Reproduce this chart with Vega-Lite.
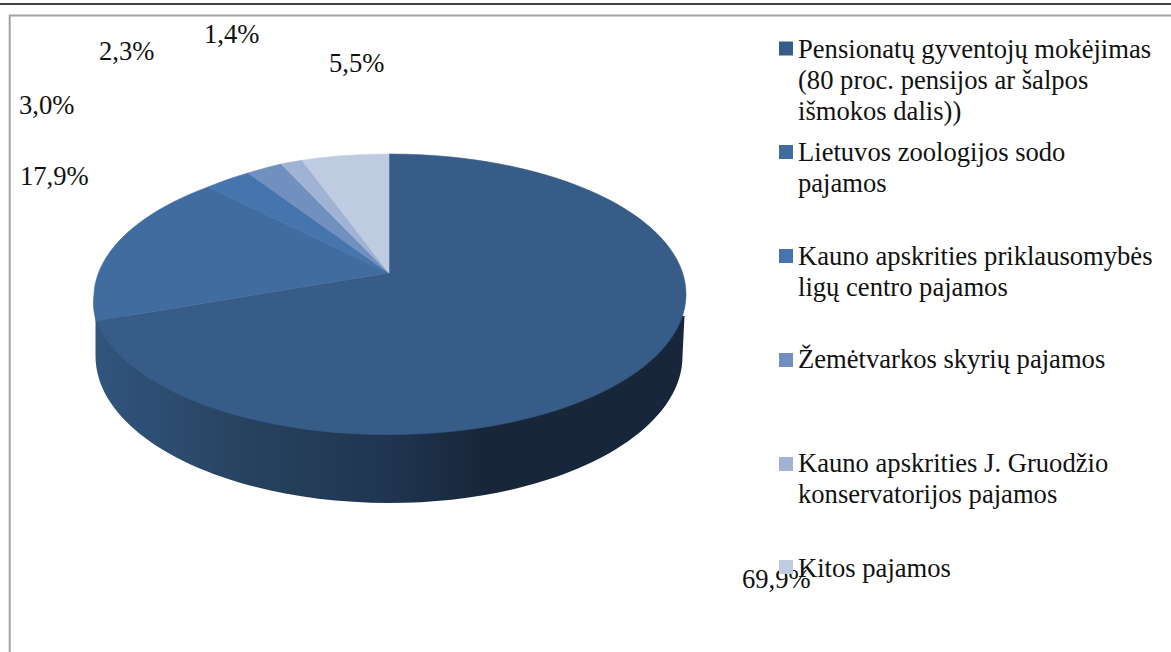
{"$schema":"https://vega.github.io/schema/vega-lite/v6.json","width":1171,"height":652,"padding":0,"autosize":{"type":"none"},"background":"white","config":{"view":{"stroke":null}},"data":{"values":[{"category":"Pensionatų gyventojų mokėjimas","legend":"Pensionatų gyventojų mokėjimas\n(80 proc. pensijos ar šalpos\nišmokos dalis))","value":69.9,"label":"69,9%"},{"category":"Lietuvos zoologijos sodo pajamos","legend":"Lietuvos zoologijos sodo\npajamos","value":17.9,"label":"17,9%"},{"category":"Kauno apskrities priklausomybės ligų centro pajamos","legend":"Kauno apskrities priklausomybės\nligų centro pajamos","value":3.0,"label":"3,0%"},{"category":"Žemėtvarkos skyrių pajamos","legend":"Žemėtvarkos skyrių pajamos","value":2.3,"label":"2,3%"},{"category":"Kauno apskrities J. Gruodžio konservatorijos pajamos","legend":"Kauno apskrities J. Gruodžio\nkonservatorijos pajamos","value":1.4,"label":"1,4%"},{"category":"Kitos pajamos","legend":"Kitos pajamos","value":5.5,"label":"5,5%"}]},"resolve":{"scale":{"x":"independent","y":"independent"}},"layer":[{"data":{"values":[{"part":"page rule"}]},"mark":{"type":"rule","color":"#000000","strokeWidth":1.6},"encoding":{"y":{"datum":4,"type":"quantitative","scale":{"domain":[0,652],"range":[0,652]},"axis":null}}},{"data":{"values":[{"part":"frame"}]},"mark":{"type":"rect","fillOpacity":0,"stroke":"#a2a2a2","strokeWidth":2},"encoding":{"x":{"datum":9.7,"type":"quantitative","scale":{"domain":[0,1171],"range":[0,1171]},"axis":null},"x2":{"datum":1300},"y":{"datum":15.5,"type":"quantitative","scale":{"domain":[0,652],"range":[0,652]},"axis":null},"y2":{"datum":800}}},{"data":{"values":[{"part":"side"}]},"mark":{"type":"point","filled":true,"opacity":1,"size":4,"strokeWidth":0,"shape":"M-490 -10L-490 30A293.5 147 0 0 0 97 30L99 -10Z","fill":{"gradient":"linear","x1":0,"y1":0,"x2":1,"y2":0,"stops":[{"offset":0,"color":"#31557e"},{"offset":0.26,"color":"#27425f"},{"offset":0.5,"color":"#1f3550"},{"offset":0.66,"color":"#18263a"},{"offset":1,"color":"#17263a"}]}},"encoding":{}},{"mark":{"type":"point","filled":true,"opacity":1,"size":4,"strokeWidth":0.6},"encoding":{"shape":{"field":"category","type":"nominal","legend":null,"scale":{"domain":["Pensionatų gyventojų mokėjimas","Lietuvos zoologijos sodo pajamos","Kauno apskrities priklausomybės ligų centro pajamos","Žemėtvarkos skyrių pajamos","Kauno apskrities J. Gruodžio konservatorijos pajamos","Kitos pajamos"],"range":["M-196.5 -53L-196.5 -172A296 140 0 0 1 100.5 -32A296 140 0 0 1 -195.5 108.5A296 140 0 0 1 -489.5 -5Z","M-196.5 -53L-489.5 -5A296 140 0 0 1 -491.5 -32A296 140 0 0 1 -377.5 -139Z","M-196.5 -53L-377.5 -139A296 140 0 0 1 -337.5 -153Z","M-196.5 -53L-337.5 -153A296 140 0 0 1 -304.5 -162Z","M-196.5 -53L-304.5 -162A296 140 0 0 1 -283.5 -165.7Z","M-196.5 -53L-283.5 -165.7A296 140 0 0 1 -196.5 -172Z"]}},"color":{"field":"category","type":"nominal","legend":null,"scale":{"domain":["Pensionatų gyventojų mokėjimas","Lietuvos zoologijos sodo pajamos","Kauno apskrities priklausomybės ligų centro pajamos","Žemėtvarkos skyrių pajamos","Kauno apskrities J. Gruodžio konservatorijos pajamos","Kitos pajamos"],"range":["#375c88","#416ca0","#4675ad","#7190c0","#a0b3d4","#bfcbe0"]}},"stroke":{"field":"category","type":"nominal","legend":null,"scale":{"domain":["Pensionatų gyventojų mokėjimas","Lietuvos zoologijos sodo pajamos","Kauno apskrities priklausomybės ligų centro pajamos","Žemėtvarkos skyrių pajamos","Kauno apskrities J. Gruodžio konservatorijos pajamos","Kitos pajamos"],"range":["#375c88","#416ca0","#4675ad","#7190c0","#a0b3d4","#bfcbe0"]}}}},{"mark":{"type":"text","font":"Liberation Serif","fontSize":26.6,"align":"left","baseline":"alphabetic","color":"#111111"},"encoding":{"text":{"field":"label"},"x":{"field":"value","type":"quantitative","axis":null,"scale":{"zero":false,"nice":false,"domain":[1.4,2.3,3.0,5.5,17.9,69.9],"range":[204,99,19,329,20,742]}},"y":{"field":"value","type":"quantitative","axis":null,"scale":{"zero":false,"nice":false,"domain":[1.4,2.3,3.0,5.5,17.9,69.9],"range":[43,60,114,72,185,588]}}}},{"mark":{"type":"point","shape":"square","filled":true,"opacity":1,"size":196,"strokeWidth":0},"encoding":{"color":{"field":"category","type":"nominal","legend":null},"x":{"field":"value","type":"quantitative","axis":null,"scale":{"zero":false,"nice":false,"domain":[1.4,69.9],"range":[786,786]}},"y":{"field":"value","type":"quantitative","axis":null,"scale":{"zero":false,"nice":false,"domain":[1.4,2.3,3.0,5.5,17.9,69.9],"range":[464,360,256,567,152,48.5]}}}},{"mark":{"type":"text","font":"Liberation Serif","fontSize":26.6,"lineBreak":"\n","lineHeight":31,"align":"left","baseline":"alphabetic","color":"#111111"},"encoding":{"text":{"field":"legend"},"x":{"field":"value","type":"quantitative","axis":null,"scale":{"zero":false,"nice":false,"domain":[1.4,69.9],"range":[798,798]}},"y":{"field":"value","type":"quantitative","axis":null,"scale":{"zero":false,"nice":false,"domain":[1.4,2.3,3.0,5.5,17.9,69.9],"range":[472,368,265,577,161,58]}}}}]}
